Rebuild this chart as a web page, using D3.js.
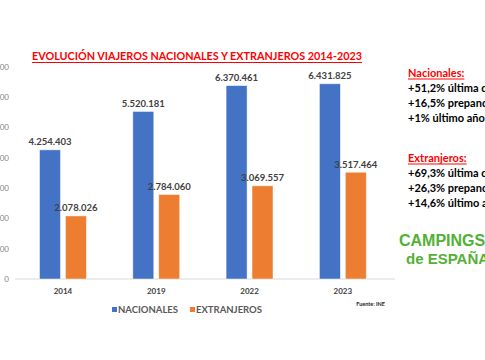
<!DOCTYPE html>
<html>
<head>
<meta charset="utf-8">
<script src="https://cdn.jsdelivr.net/npm/d3@7"></script>
<style>
  body { margin: 0; background: #fff; }
  svg { display: block; font-family: Lato, "Open Sans", sans-serif; }
</style>
</head>
<body>
<div id="chart"></div>
<script>
// datos
const years = ["2014", "2019", "2022", "2023"];
const series = ["NACIONALES", "EXTRANJEROS"];
const nacionales = [4254403, 5520181, 6370461, 6431825];
const extranjeros = [2078026, 2784060, 3069557, 3517464];
const yTicks = [0, 1000000, 2000000, 3000000, 4000000, 5000000, 6000000, 7000000];
const colors = ["#4472C4", "#ED7D31"];

const notasNac = ["+51,2% última década", "+16,5% prepandemia", "+1% último año"];
const notasExt = ["+69,3% última década", "+26,3% prepandemia", "+14,6% último año"];

const width = 485, height = 360;
const es = d3.formatLocale({ decimal: ",", thousands: ".", grouping: [3], currency: ["", "€"] });
const fmt = es.format(",d");

const svg = d3.select("#chart").append("svg")
    .attr("width", width)
    .attr("height", height);

const x0 = d3.scaleBand().domain(years).range([16.3, 389.5]);
const x1 = d3.scaleBand().domain(series).range([23.2, 70.1]).paddingInner(0.19);
const y = d3.scaleLinear().domain([0, 7000000]).range([279, 66.5]);

// eje y (solo etiquetas, cortadas por el borde como en el original)
const yAxis = svg.append("g")
    .attr("transform", "translate(9,0)")
    .call(d3.axisLeft(y).tickValues(yTicks).tickFormat(fmt).tickSize(0).tickPadding(0));
yAxis.select(".domain").remove();
yAxis.selectAll("text")
    .attr("fill", "#7f7f7f")
    .style("font-size", "8px")
    .style("font-family", "Lato, sans-serif");

// línea base
svg.append("line")
    .attr("x1", 15).attr("x2", 395)
    .attr("y1", y(0)).attr("y2", y(0))
    .attr("stroke", "#d9d9d9")
    .attr("stroke-width", 1);

const rows = years.map((yr, i) => ({ year: yr, values: [nacionales[i], extranjeros[i]] }));

const groups = svg.append("g").selectAll("g")
    .data(rows)
    .join("g")
    .attr("transform", d => `translate(${x0(d.year)},0)`);

groups.selectAll("rect")
    .data(d => d.values.map((v, j) => ({ s: series[j], v, j })))
    .join("rect")
    .attr("x", d => x1(d.s))
    .attr("y", d => y(d.v))
    .attr("width", x1.bandwidth())
    .attr("height", d => y(0) - y(d.v))
    .attr("fill", d => colors[d.j])
    .attr("stroke", "#ffffff")
    .attr("stroke-opacity", 0.6)
    .attr("stroke-width", 0.8);

groups.selectAll("text.val")
    .data(d => d.values.map((v, j) => ({ s: series[j], v, j })))
    .join("text")
    .attr("class", "val")
    .attr("x", d => x1(d.s) + x1.bandwidth() / 2)
    .attr("y", d => y(d.v) - 4.5)
    .attr("text-anchor", "middle")
    .attr("fill", "#404040")
    .style("font-size", "9.5px")
    .style("font-weight", "bold")
    .text(d => fmt(d.v));

// eje x
const xAxis = svg.append("g")
    .attr("transform", `translate(0,${y(0)})`)
    .call(d3.axisBottom(x0).tickSize(0).tickPadding(9));
xAxis.select(".domain").remove();
xAxis.selectAll("text")
    .attr("fill", "#404040")
    .style("font-size", "8px")
    .style("font-weight", "bold")
    .style("font-family", "Lato, sans-serif");

// título
svg.append("text")
    .attr("x", 32).attr("y", 60)
    .attr("textLength", 330)
    .attr("lengthAdjust", "spacingAndGlyphs")
    .attr("fill", "#ff0000")
    .style("font-size", "11.5px")
    .style("font-weight", "bold")
    .text("EVOLUCIÓN VIAJEROS NACIONALES Y EXTRANJEROS  2014-2023");
svg.append("line")
    .attr("x1", 32).attr("x2", 362)
    .attr("y1", 62.5).attr("y2", 62.5)
    .attr("stroke", "#ff0000").attr("stroke-width", 1);

// leyenda
const legend = svg.append("g").selectAll("g")
    .data(series)
    .join("g")
    .attr("transform", (d, i) => `translate(${[112, 190][i]},310)`);
legend.append("rect")
    .attr("x", 0).attr("y", -3)
    .attr("width", 5).attr("height", 5)
    .attr("fill", (d, i) => colors[i]);
legend.append("text")
    .attr("x", 6).attr("y", 3)
    .attr("fill", "#595959")
    .style("font-size", "9.5px")
    .style("font-weight", "bold")
    .text(d => d);

svg.append("text")
    .attr("x", 385).attr("y", 306)
    .attr("text-anchor", "end")
    .attr("fill", "#262626")
    .style("font-size", "5.5px")
    .style("font-weight", "bold")
    .text("Fuente: INE");

// notas laterales
function bloque(titulo, lineas, top) {
    const t = svg.append("text")
        .attr("x", 408).attr("y", top)
        .attr("fill", "#ff0000")
        .style("font-size", "11px")
        .style("font-weight", "bold")
        .text(titulo);
    const w = t.node().getComputedTextLength();
    svg.append("line")
        .attr("x1", 408).attr("x2", 408 + w)
        .attr("y1", top + 2).attr("y2", top + 2)
        .attr("stroke", "#ff0000").attr("stroke-width", 1);
    svg.append("g").selectAll("text")
        .data(lineas)
        .join("text")
        .attr("x", 408)
        .attr("y", (d, i) => top + 15 * (i + 1))
        .attr("fill", "#000")
        .style("font-size", "11px")
        .style("font-weight", "bold")
        .text(d => d);
}
bloque("Nacionales:", notasNac, 77);
bloque("Extranjeros:", notasExt, 162);

// logo
svg.append("text")
    .attr("x", 399).attr("y", 246)
    .attr("fill", "#52b135")
    .style("font-size", "16px")
    .style("font-weight", "bold")
    .style("font-family", "'Liberation Sans', Arial, sans-serif")
    .text("CAMPINGS");
svg.append("text")
    .attr("x", 406).attr("y", 264)
    .attr("fill", "#52b135")
    .style("font-size", "15px")
    .style("font-weight", "bold")
    .style("font-family", "'Liberation Sans', Arial, sans-serif")
    .text("de ESPAÑA");
</script>
</body>
</html>
